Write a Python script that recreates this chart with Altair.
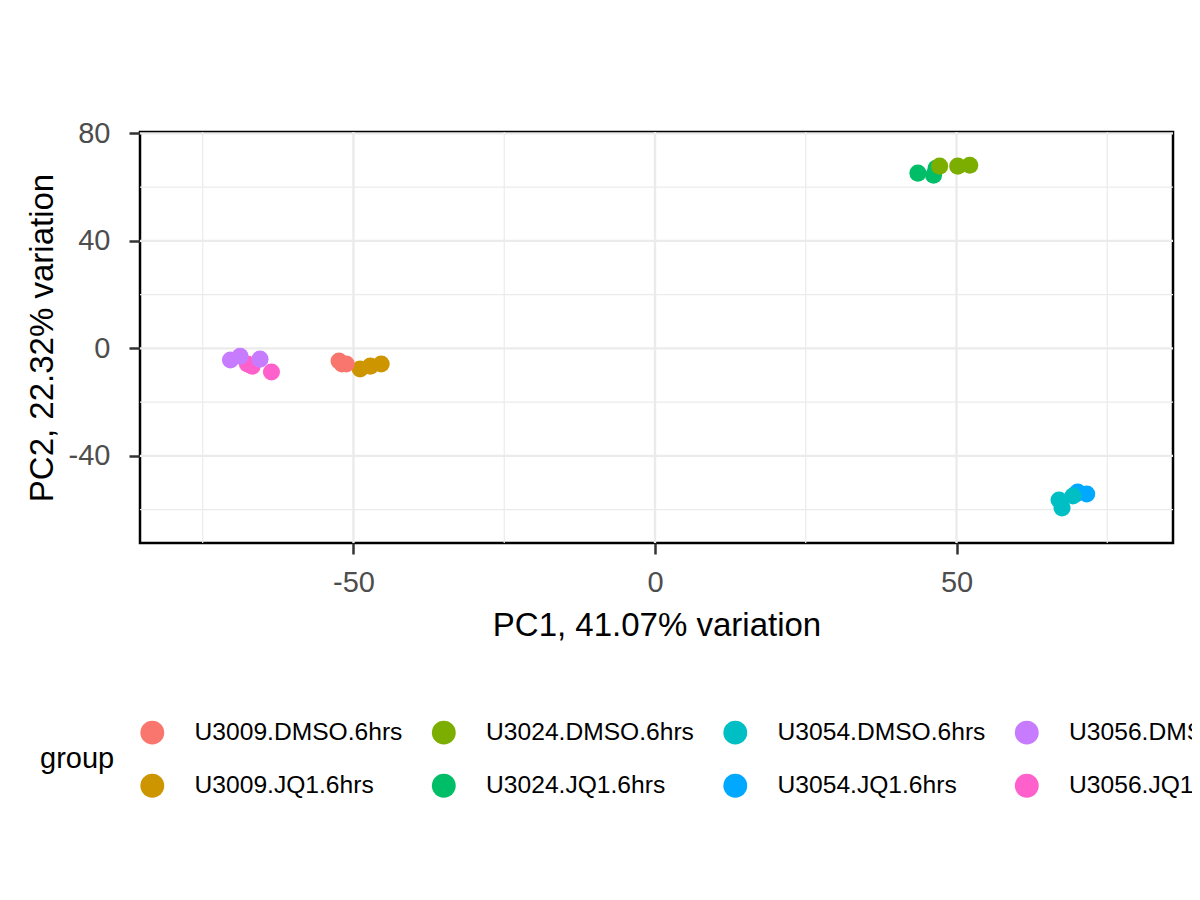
import altair as alt
import pandas as pd

groups = [
    "U3009.JQ1.6hrs", "U3024.JQ1.6hrs", "U3054.JQ1.6hrs", "U3056.JQ1.6hrs",
    "U3009.DMSO.6hrs", "U3024.DMSO.6hrs", "U3054.DMSO.6hrs", "U3056.DMSO.6hrs",
]
pc1 = {
    "U3009.DMSO.6hrs": [-52.4, -51.9, -51.2],
    "U3009.JQ1.6hrs": [-48.9, -47.2, -45.4],
    "U3024.DMSO.6hrs": [47.2, 50.2, 52.2],
    "U3024.JQ1.6hrs": [43.6, 46.2, 46.6],
    "U3054.DMSO.6hrs": [67.0, 67.5, 69.3],
    "U3054.JQ1.6hrs": [69.8, 70.1, 71.6],
    "U3056.DMSO.6hrs": [-70.4, -68.8, -65.5],
    "U3056.JQ1.6hrs": [-67.6, -66.8, -63.6],
}
pc2 = {
    "U3009.DMSO.6hrs": [-4.7, -5.8, -5.8],
    "U3009.JQ1.6hrs": [-7.7, -6.6, -5.8],
    "U3024.DMSO.6hrs": [67.8, 67.8, 68.1],
    "U3024.JQ1.6hrs": [65.2, 64.4, 67.0],
    "U3054.DMSO.6hrs": [-56.4, -59.4, -54.9],
    "U3054.JQ1.6hrs": [-54.2, -53.4, -54.2],
    "U3056.DMSO.6hrs": [-4.3, -2.9, -4.0],
    "U3056.JQ1.6hrs": [-5.8, -6.6, -8.8],
}
# legend order (row-wise in Vega -> column-wise like ggplot)
legend_order = [
    "U3009.DMSO.6hrs", "U3024.DMSO.6hrs", "U3054.DMSO.6hrs", "U3056.DMSO.6hrs",
    "U3009.JQ1.6hrs", "U3024.JQ1.6hrs", "U3054.JQ1.6hrs", "U3056.JQ1.6hrs",
]
colors = {
    "U3009.DMSO.6hrs": "#F8766D", "U3009.JQ1.6hrs": "#CD9600",
    "U3024.DMSO.6hrs": "#7CAE00", "U3024.JQ1.6hrs": "#00BE67",
    "U3054.DMSO.6hrs": "#00BFC4", "U3054.JQ1.6hrs": "#00A9FF",
    "U3056.DMSO.6hrs": "#C77CFF", "U3056.JQ1.6hrs": "#FF61CC",
}
x_major = [-50, 0, 50]
x_minor = [-75, -25, 25, 75]
y_major = [-40, 0, 40, 80]
y_minor = [-60, -20, 20, 60]
x_domain = [-85.4, 85.9]
y_domain = [-72.4, 80.5]

rows = []
for g in groups:
    for a, b in zip(pc1[g], pc2[g]):
        rows.append({"PC1": a, "PC2": b, "group": g})
df = pd.DataFrame(rows)

xs = alt.Scale(domain=x_domain, nice=False, zero=False)
ys = alt.Scale(domain=y_domain, nice=False, zero=False)

font = "Liberation Sans"
x_title = "PC1, 41.07% variation"
y_title = "PC2, 22.32% variation"

x_axis = alt.Axis(values=x_major, grid=False, domain=False, tickSize=11, tickWidth=2.5,
                  tickColor="#333333", labelColor="#4D4D4D", labelFontSize=29,
                  labelExpr="'' + datum.value",
                  labelPadding=14, labelFont=font, titleFont=font, titleFontSize=33,
                  titleFontWeight="normal", titleColor="black", titlePadding=12)
y_axis = alt.Axis(values=y_major, grid=False, domain=False, tickSize=11, tickWidth=2.5,
                  tickColor="#333333", labelColor="#4D4D4D", labelFontSize=29,
                  labelExpr="'' + datum.value",
                  labelPadding=19, labelFont=font, titleFont=font, titleFontSize=33,
                  titleFontWeight="normal", titleColor="black", titlePadding=9)


def vgrid(vals, w):
    return alt.Chart(pd.DataFrame({"v": vals})).mark_rule(color="#EBEBEB", strokeWidth=w).encode(
        x=alt.X("v:Q", scale=xs, axis=x_axis, title=x_title)
    )


def hgrid(vals, w):
    return alt.Chart(pd.DataFrame({"v": vals})).mark_rule(color="#EBEBEB", strokeWidth=w).encode(
        y=alt.Y("v:Q", scale=ys, axis=y_axis, title=y_title)
    )


points = alt.Chart(df).mark_circle(size=290, opacity=1).encode(
    x=alt.X("PC1:Q", scale=xs, title=x_title, axis=x_axis),
    y=alt.Y("PC2:Q", scale=ys, title=y_title, axis=y_axis),
    color=alt.Color("group:N",
                    scale=alt.Scale(domain=legend_order, range=[colors[g] for g in legend_order]),
                    legend=alt.Legend(orient="none", legendX=-100, legendY=588, columns=4,
                                      direction="horizontal", title="group",
                                      titleOrient="left", titleAnchor="middle", titleBaseline="middle",
                                      titleFont=font, titleFontSize=29, titleFontWeight="normal",
                                      titleColor="black", titlePadding=25,
                                      labelFont=font, labelFontSize=24.6, labelColor="black",
                                      labelOffset=30, symbolType="circle", symbolSize=570,
                                      symbolStrokeWidth=0, columnPadding=28.5, rowPadding=27.5,
                                      padding=0, labelLimit=400)),
)

chart = alt.layer(
    vgrid(x_minor, 1.2), hgrid(y_minor, 1.2), vgrid(x_major, 2.4), hgrid(y_major, 2.4), points
).properties(
    width=1033, height=411,
    background="white",
    autosize=alt.AutoSizeParams(type="none"),
    padding={"left": 132, "top": 124, "right": 19, "bottom": 340},
).configure_view(stroke="black", strokeWidth=2.5, fill="white")

chart.save("out.html", embed_options={"renderer": "svg", "actions": False})
